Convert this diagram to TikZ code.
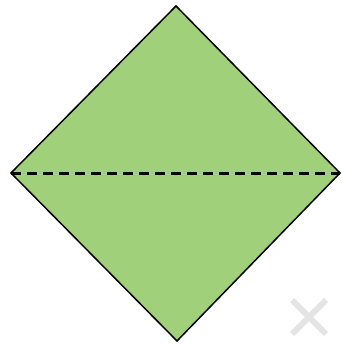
\documentclass[tikz,border=0pt]{standalone}
\usetikzlibrary{calc}
\definecolor{Leaf}{HTML}{A0D07A}
\definecolor{Mark}{HTML}{E4E4E4}

\begin{document}
\begin{tikzpicture}[x=1pt,y=-1pt,fold/.style={draw=black,line width=3pt,dash pattern=on 10pt off 6pt},cross/.style={draw=Mark,line width=6pt}]
    \useasboundingbox (0,0) rectangle (341,345);
    \coordinate (top) at (176,6);
    \coordinate (lft) at (11,173);
    \coordinate (rgt) at (340,173);
    \coordinate (bot) at (177,341);
    \coordinate (xc) at (309,317);
    \fill[Leaf] (top)--(rgt)--(bot)--(lft)--cycle;
    \draw[black,line width=1.5pt,line join=miter] (top)--(rgt)--(bot)--(lft)--cycle;
    \draw[fold] (lft)--(rgt);
    \draw[cross] ($(xc)+(-17,-17)$)--($(xc)+(17,17)$);\draw[cross] ($(xc)+(17,-17)$)--($(xc)+(-17,17)$);
  \end{tikzpicture}
\end{document}
